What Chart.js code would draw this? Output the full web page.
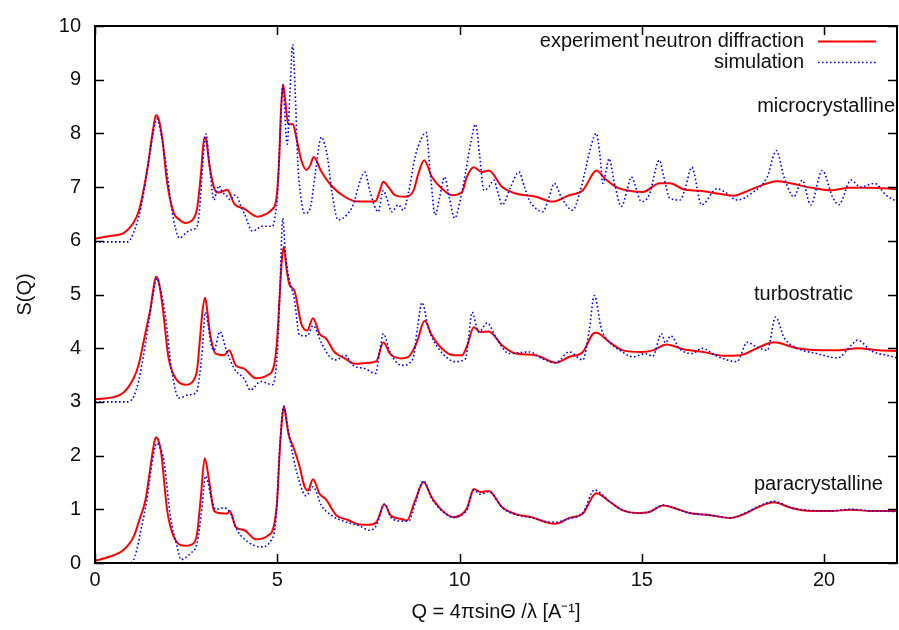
<!DOCTYPE html>
<html>
<head>
<meta charset="utf-8">
<script src="https://cdn.jsdelivr.net/npm/chart.js@4.4.1/dist/chart.umd.min.js"></script>
<style>
  html, body { margin: 0; padding: 0; background: #fff; }
  #wrap { width: 899px; height: 630px; }
</style>
</head>
<body>
<div id="wrap"><canvas id="chart" width="899" height="630"></canvas></div>
<script>
// [Q, S(Q)] pairs, offsets already included (0, 3, 6)
const microExp = [[0,6.04],[0.4,6.09],[0.77,6.14],[1.05,6.33],[1.2,6.55],[1.33,6.94],[1.45,7.4],[1.52,7.74],[1.6,8.1],[1.67,8.34],[1.74,8.28],[1.84,7.93],[1.98,7.08],[2.16,6.52],[2.3,6.4],[2.48,6.33],[2.62,6.36],[2.71,6.42],[2.8,6.6],[2.9,7.2],[3.0,7.93],[3.06,7.85],[3.12,7.5],[3.26,7.0],[3.36,6.9],[3.5,6.92],[3.63,6.95],[3.7,6.88],[3.81,6.7],[4.09,6.6],[4.46,6.45],[4.7,6.5],[4.83,6.57],[4.97,6.76],[5.05,7.5],[5.1,8.4],[5.16,8.91],[5.22,8.6],[5.3,8.17],[5.43,8.17],[5.52,7.93],[5.66,7.5],[5.8,7.32],[5.9,7.4],[6.0,7.56],[6.2,7.3],[6.48,7.03],[6.85,6.82],[7.22,6.73],[7.5,6.73],[7.7,6.74],[7.82,6.95],[7.91,7.1],[8.05,7.0],[8.23,6.85],[8.5,6.82],[8.74,6.94],[8.87,7.25],[9.03,7.5],[9.24,7.19],[9.52,6.97],[9.79,6.85],[10.07,6.91],[10.2,7.19],[10.39,7.37],[10.62,7.28],[10.8,7.31],[11.17,7.0],[11.54,6.88],[12.09,6.82],[12.55,6.73],[13.01,6.85],[13.38,6.94],[13.66,7.25],[13.75,7.31],[14.0,7.15],[14.3,7.0],[14.57,6.94],[15.03,6.91],[15.49,7.07],[15.77,7.07],[16.14,6.96],[16.6,6.93],[17.06,6.88],[17.52,6.84],[17.8,6.9],[18.16,7.0],[18.71,7.11],[19.08,7.07],[19.63,6.99],[20.18,6.94],[20.7,6.99],[21.29,6.99],[22,6.96]];

const microSim = [[0,5.98],[0.9,5.98],[1.05,6.14],[1.2,6.45],[1.33,6.87],[1.5,7.6],[1.62,8.1],[1.7,8.27],[1.78,8.1],[1.93,7.5],[2.11,6.57],[2.22,6.2],[2.32,6.05],[2.45,6.12],[2.62,6.2],[2.8,6.27],[2.87,6.6],[2.93,7.2],[3.0,7.8],[3.05,7.99],[3.1,7.7],[3.17,7.2],[3.26,6.76],[3.33,6.9],[3.4,7.03],[3.5,6.9],[3.6,6.85],[3.72,6.76],[3.82,6.85],[3.9,6.82],[4.0,6.65],[4.1,6.5],[4.32,6.18],[4.45,6.22],[4.55,6.27],[4.87,6.27],[4.95,6.5],[5.01,6.88],[5.07,7.8],[5.15,8.9],[5.27,7.8],[5.35,8.8],[5.42,9.65],[5.49,8.8],[5.56,7.5],[5.65,6.8],[5.75,6.51],[5.9,6.6],[6.05,7.3],[6.21,7.93],[6.3,7.8],[6.39,7.5],[6.5,6.9],[6.67,6.39],[6.94,6.51],[7.1,6.7],[7.22,7.0],[7.4,7.28],[7.55,6.9],[7.77,6.54],[7.91,6.94],[8.0,6.8],[8.14,6.54],[8.32,6.67],[8.46,6.57],[8.6,6.9],[8.78,7.56],[8.95,7.9],[9.08,8.02],[9.2,7.25],[9.33,6.48],[9.45,6.8],[9.59,7.19],[9.72,6.8],[9.87,6.42],[10.0,6.7],[10.16,7.25],[10.3,7.8],[10.44,8.17],[10.55,7.6],[10.67,6.94],[10.8,7.0],[10.94,7.13],[11.05,6.9],[11.17,6.67],[11.4,7.0],[11.63,7.28],[11.78,7.0],[11.91,6.76],[12.1,6.6],[12.28,6.54],[12.45,6.8],[12.6,7.07],[12.8,6.8],[13.1,6.57],[13.3,6.9],[13.47,7.37],[13.62,7.8],[13.75,8.0],[13.85,7.6],[13.93,7.07],[14.02,7.3],[14.1,7.53],[14.25,7.07],[14.44,6.64],[14.6,6.95],[14.71,7.19],[14.99,6.73],[15.2,6.85],[15.48,7.5],[15.6,7.2],[15.77,6.79],[16.05,6.76],[16.2,7.0],[16.37,7.37],[16.64,6.67],[17.06,6.97],[17.3,6.9],[17.61,6.76],[18.0,6.88],[18.44,7.19],[18.69,7.68],[18.9,7.19],[19.17,6.82],[19.4,7.13],[19.63,6.67],[19.95,7.31],[20.23,6.82],[20.4,6.67],[20.74,7.13],[21.0,7.0],[21.38,7.07],[21.7,6.85],[22,6.73]];

const turboExp = [[0,3.05],[0.69,3.13],[1.06,3.44],[1.2,3.7],[1.33,4.11],[1.45,4.5],[1.52,4.73],[1.6,5.1],[1.67,5.33],[1.74,5.25],[1.84,4.85],[2.02,3.81],[2.21,3.44],[2.48,3.32],[2.71,3.41],[2.8,3.6],[2.87,4.1],[2.95,4.7],[3.02,4.94],[3.08,4.7],[3.15,4.3],[3.31,3.9],[3.54,3.87],[3.68,3.96],[3.86,3.68],[4.09,3.62],[4.41,3.44],[4.74,3.5],[4.92,3.71],[5.0,4.2],[5.06,4.91],[5.12,5.6],[5.18,5.89],[5.25,5.5],[5.33,5.19],[5.47,5.07],[5.66,4.45],[5.82,4.33],[5.98,4.56],[6.16,4.27],[6.34,4.18],[6.57,3.93],[6.85,3.81],[7.13,3.71],[7.5,3.73],[7.72,3.76],[7.91,4.11],[8.09,3.9],[8.41,3.81],[8.6,3.84],[8.83,4.11],[9.04,4.51],[9.24,4.24],[9.52,3.99],[9.84,3.87],[10.07,3.87],[10.21,4.05],[10.39,4.39],[10.57,4.3],[10.8,4.31],[11.17,4.05],[11.54,3.9],[12.09,3.87],[12.64,3.73],[13.01,3.84],[13.38,3.93],[13.66,4.27],[13.75,4.29],[14.12,4.11],[14.48,3.96],[14.99,3.93],[15.3,3.96],[15.68,4.07],[16.14,3.98],[16.69,3.93],[17.24,3.86],[17.7,3.87],[18.16,4.0],[18.62,4.11],[19.26,4.0],[19.9,3.96],[20.4,3.96],[20.92,4.0],[21.5,3.96],[22,3.95]];

const turboSim = [[0,3.0],[0.9,3.0],[1.06,3.1],[1.2,3.4],[1.33,3.86],[1.5,4.6],[1.62,5.1],[1.7,5.3],[1.78,5.15],[1.93,4.6],[2.11,3.56],[2.3,3.07],[2.56,3.13],[2.79,3.19],[2.87,3.5],[2.93,3.86],[3.03,4.67],[3.1,4.45],[3.17,4.11],[3.26,3.96],[3.43,4.31],[3.59,3.99],[3.82,3.62],[4.1,3.42],[4.26,3.22],[4.55,3.38],[4.87,3.32],[5.0,3.9],[5.07,5.0],[5.15,6.42],[5.22,5.8],[5.29,5.41],[5.47,4.9],[5.61,4.24],[5.82,4.23],[5.98,4.42],[6.21,4.1],[6.44,3.84],[6.62,3.78],[6.85,3.87],[7.08,3.68],[7.4,3.62],[7.7,3.53],[7.8,3.9],[7.91,4.27],[8.09,3.93],[8.41,3.68],[8.72,3.8],[8.85,4.4],[8.97,4.85],[9.15,4.36],[9.43,3.99],[9.89,3.75],[10.16,3.8],[10.25,4.2],[10.34,4.67],[10.53,4.3],[10.76,4.47],[11.0,4.2],[11.36,3.9],[11.91,3.93],[12.28,3.8],[12.64,3.73],[13.01,3.93],[13.38,3.78],[13.55,4.3],[13.7,4.98],[13.89,4.36],[14.12,4.11],[14.4,3.96],[14.76,3.84],[15.1,3.9],[15.3,3.85],[15.54,4.27],[15.65,4.1],[15.79,4.23],[16.05,3.98],[16.4,3.9],[16.64,4.0],[17.06,3.85],[17.61,3.75],[17.89,4.11],[18.16,4.02],[18.44,3.96],[18.67,4.58],[18.9,4.2],[19.26,4.0],[19.8,3.9],[20.37,3.82],[20.74,4.05],[20.92,4.15],[21.29,3.95],[21.84,3.85],[22,3.82]];

const paraExp = [[0,0.04],[0.41,0.12],[0.78,0.24],[1.06,0.49],[1.24,0.85],[1.38,1.16],[1.52,1.78],[1.6,2.15],[1.67,2.34],[1.74,2.28],[1.81,2.08],[1.98,0.98],[2.16,0.49],[2.48,0.32],[2.71,0.37],[2.8,0.55],[2.9,1.2],[3.01,1.95],[3.13,1.53],[3.26,0.98],[3.4,0.93],[3.63,0.92],[3.7,0.97],[3.86,0.67],[4.1,0.61],[4.41,0.44],[4.74,0.51],[4.92,0.73],[5.0,1.2],[5.06,2.0],[5.12,2.6],[5.18,2.92],[5.24,2.7],[5.31,2.39],[5.43,2.18],[5.61,1.8],[5.75,1.42],[5.84,1.35],[5.98,1.56],[6.16,1.29],[6.34,1.18],[6.62,0.89],[6.94,0.8],[7.22,0.72],[7.5,0.71],[7.72,0.76],[7.94,1.09],[8.12,0.88],[8.41,0.82],[8.55,0.79],[8.78,1.16],[9.01,1.51],[9.24,1.22],[9.52,0.98],[9.84,0.85],[10.07,0.91],[10.21,1.03],[10.39,1.38],[10.57,1.32],[10.8,1.34],[11.17,1.04],[11.54,0.91],[12.0,0.85],[12.37,0.76],[12.64,0.73],[13.01,0.84],[13.38,0.92],[13.66,1.25],[13.75,1.3],[14.12,1.14],[14.48,0.98],[14.85,0.93],[15.2,0.95],[15.59,1.07],[15.86,1.03],[16.32,0.93],[16.88,0.89],[17.43,0.84],[17.8,0.91],[18.16,1.03],[18.62,1.13],[19.08,1.03],[19.63,0.97],[20.18,0.97],[20.74,0.99],[21.29,0.97],[22,0.97]];

const paraSim = [[0,0.0],[0.95,0.0],[1.05,0.05],[1.15,0.25],[1.24,0.55],[1.42,1.16],[1.55,1.8],[1.7,2.23],[1.78,2.15],[1.89,1.9],[2.07,0.86],[2.25,0.31],[2.36,0.06],[2.48,0.1],[2.62,0.18],[2.8,0.37],[2.93,1.0],[3.03,1.62],[3.1,1.5],[3.17,1.28],[3.31,1.0],[3.54,1.03],[3.72,0.92],[3.9,0.61],[4.18,0.4],[4.55,0.3],[4.83,0.42],[4.97,0.86],[5.06,2.05],[5.18,2.92],[5.29,2.52],[5.43,2.0],[5.61,1.5],[5.79,1.25],[5.98,1.42],[6.21,1.07],[6.48,0.89],[6.85,0.77],[7.22,0.7],[7.54,0.61],[7.72,0.7],[7.94,1.1],[8.12,0.85],[8.41,0.78],[8.6,0.78],[8.8,1.15],[9.01,1.53],[9.24,1.2],[9.52,0.97],[9.84,0.85],[10.07,0.9],[10.21,1.0],[10.39,1.36],[10.57,1.28],[10.8,1.33],[11.17,1.03],[11.54,0.9],[12.0,0.84],[12.37,0.77],[12.64,0.76],[13.01,0.83],[13.38,0.93],[13.7,1.36],[14.12,1.14],[14.48,0.98],[14.85,0.93],[15.2,0.95],[15.59,1.08],[15.86,1.03],[16.32,0.93],[16.88,0.89],[17.43,0.84],[17.8,0.92],[18.16,1.04],[18.62,1.15],[19.08,1.03],[19.63,0.98],[20.18,0.97],[20.74,1.0],[21.29,0.97],[22,0.96]];

const xTicks = [0, 5, 10, 15, 20];
const yTicks = [0, 1, 2, 3, 4, 5, 6, 7, 8, 9, 10];
const sampleLabels = [['microcrystalline', 895, 106, 'right'], ['turbostratic', 754, 294, 'left'], ['paracrystalline', 754, 484, 'left']];

const RED = '#ff0000';
const BLUE = '#0000ff';
const FONT = '"Liberation Sans", Arial, sans-serif';

const toXY = arr => arr.map(p => ({ x: p[0], y: p[1] }));

function simSet(arr) {
  return { data: toXY(arr), borderColor: BLUE, borderWidth: 1.6, borderDash: [1.6, 2.4], pointRadius: 0, cubicInterpolationMode: 'monotone', fill: false };
}
function expSet(arr) {
  return { data: toXY(arr), borderColor: RED, borderWidth: 2, pointRadius: 0, cubicInterpolationMode: 'monotone', fill: false };
}

// border box, inward mirrored ticks, legend and sample names
const decor = {
  id: 'decor',
  afterDatasetsDraw(chart) {
    const { ctx, chartArea: a, scales: { x, y } } = chart;
    ctx.save();
    ctx.strokeStyle = '#000';
    ctx.lineWidth = 1.5;
    ctx.setLineDash([]);
    ctx.beginPath();
    xTicks.forEach(v => {
      const px = Math.round(x.getPixelForValue(v)) + 0.5;
      ctx.moveTo(px, a.bottom); ctx.lineTo(px, a.bottom - 9);
      ctx.moveTo(px, a.top); ctx.lineTo(px, a.top + 9);
    });
    yTicks.forEach(v => {
      const py = Math.round(y.getPixelForValue(v)) + 0.5;
      ctx.moveTo(a.left, py); ctx.lineTo(a.left + 9, py);
      ctx.moveTo(a.right, py); ctx.lineTo(a.right - 9, py);
    });
    ctx.stroke();
    ctx.lineWidth = 2;
    ctx.strokeRect(a.left, a.top, a.right - a.left, a.bottom - a.top);

    ctx.fillStyle = '#111';
    ctx.font = '20px ' + FONT;
    ctx.textBaseline = 'middle';
    ctx.textAlign = 'right';
    ctx.fillText('experiment neutron diffraction', 804, 41);
    ctx.fillText('simulation', 804, 62);
    ctx.lineWidth = 2;
    ctx.strokeStyle = RED;
    ctx.beginPath(); ctx.moveTo(818, 41.5); ctx.lineTo(876, 41.5); ctx.stroke();
    ctx.lineWidth = 1.6;
    ctx.strokeStyle = BLUE;
    ctx.setLineDash([1.6, 2.4]);
    ctx.beginPath(); ctx.moveTo(818, 62.5); ctx.lineTo(876, 62.5); ctx.stroke();
    ctx.setLineDash([]);

    sampleLabels.forEach(([t, lx, ly, al]) => {
      ctx.textAlign = al;
      ctx.fillText(t, lx, ly);
    });
    ctx.restore();
  }
};

Chart.defaults.font.family = FONT;
Chart.defaults.font.size = 20;
Chart.defaults.color = '#111';

new Chart(document.getElementById('chart'), {
  type: 'line',
  data: {
    datasets: [
      simSet(microSim), simSet(turboSim), simSet(paraSim),
      expSet(microExp), expSet(turboExp), expSet(paraExp)
    ]
  },
  options: {
    responsive: false,
    animation: false,
    layout: { padding: { top: 21, right: 2, left: 0, bottom: 0 } },
    plugins: { legend: { display: false }, tooltip: { enabled: false } },
    scales: {
      x: {
        type: 'linear', min: 0, max: 22,
        afterFit: s => { s.height = 67; },
        grid: { display: false, drawTicks: false },
        border: { display: false },
        ticks: { stepSize: 5, includeBounds: false, padding: 5, maxRotation: 0 },
        title: { display: true, text: 'Q = 4πsinΘ /λ [A⁻¹]', padding: { top: 0, bottom: 6 } }
      },
      y: {
        type: 'linear', min: 0, max: 10,
        afterFit: s => { s.width = 95; },
        grid: { display: false, drawTicks: false },
        border: { display: false },
        ticks: { stepSize: 1, padding: 14 },
        title: { display: true, text: 'S(Q)', padding: { top: 13, bottom: 0 } }
      }
    }
  },
  plugins: [decor]
});
</script>
</body>
</html>
